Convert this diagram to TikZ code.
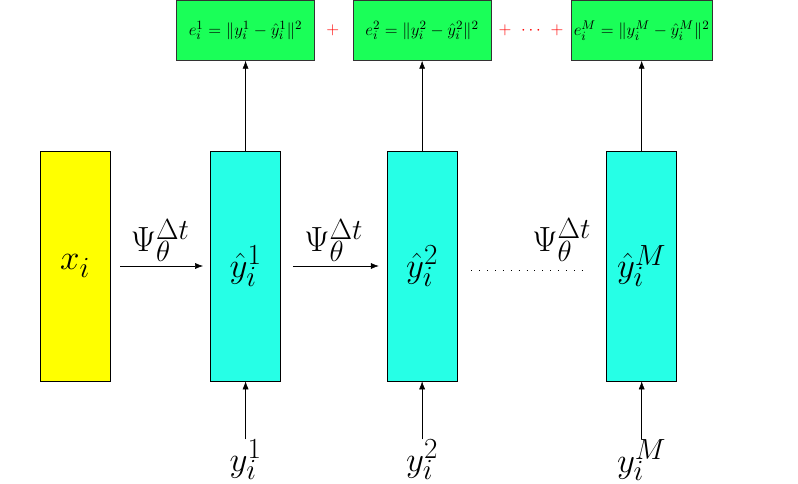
\documentclass[tikz,border=0pt]{standalone}
\usetikzlibrary{arrows.meta,positioning,calc}
\definecolor{inputyellow}{RGB}{255,255,0}
\definecolor{predcyan}{RGB}{38,255,230}
\definecolor{errgreen}{RGB}{26,255,88}
\newcommand{\biglabel}{\fontsize{29}{34}\selectfont}
\tikzset{
  inputbox/.style={
    rectangle,
    draw=black,
    fill=inputyellow,
    minimum width=1.75cm,
    minimum height=5.75cm,
    inner sep=0pt,
    font=\biglabel
  },
  predbox/.style={
    inputbox,
    fill=predcyan
  },
  errbox/.style={
    rectangle,
    draw=black!80,
    fill=errgreen,
    minimum width=3.45cm,
    minimum height=1.5cm,
    inner xsep=2pt,
    font=\fontsize{13.2}{15}\selectfont
  },
  obs/.style={
    inner sep=0pt,
    font=\biglabel
  },
  flowlabel/.style={
    font=\biglabel,
    inner sep=0pt,
    above=3pt
  },
  redop/.style={
    text=red,
    inner sep=0pt,
    font=\fontsize{13.2}{15}\selectfont
  },
  arrow/.style={
    -{Latex[length=2mm]},
    draw=black
  },
  dotline/.style={
    dash pattern=on 0.6pt off 5pt
  }
}

\begin{document}
\begin{tikzpicture}
  \useasboundingbox (0,0) rectangle (19.95,-12.1);

  \node[inputbox] (xin) at (1.875,-6.65) {$x_i$};
  \node[predbox, right=2.5cm of xin] (yhat1) {$\hat{y}_i^1$};
  \node[predbox, right=2.65cm of yhat1] (yhat2) {$\hat{y}_i^2$};
  \node[predbox, right=3.725cm of yhat2] (yhatM) {$\hat{y}_i^M$};

  \node[errbox, above=2.25cm of yhat1] (err1) {$e_i^1 = \|y_i^1 - \hat{y}_i^1\|^2$};
  \node[errbox, above=2.25cm of yhat2] (err2) {$e_i^2 = \|y_i^2 - \hat{y}_i^2\|^2$};
  \node[errbox, above=2.25cm of yhatM] (errM) {$e_i^M = \|y_i^M - \hat{y}_i^M\|^2$};
  \node[redop, right=0.28cm of err1] (plus1) {$+$};
  \node[redop] (plusdots) at ($(err2.east)!0.5!(errM.west)$) {$+\hspace{5pt}\cdots\hspace{5pt}+$};

  \node[obs, below=1.45cm of yhat1] (obs1) {$y_i^1$};
  \node[obs, below=1.45cm of yhat2] (obs2) {$y_i^2$};
  \node[obs, below=1.45cm of yhatM] (obsM) {$y_i^M$};

  \draw[arrow, shorten <=0.25cm, shorten >=0.18cm] (xin) -- node[flowlabel] {$\Psi_\theta^{\Delta t}$} (yhat1);
  \draw[arrow, shorten <=0.3cm, shorten >=0.2cm] (yhat1) -- node[flowlabel] {$\Psi_\theta^{\Delta t}$} (yhat2);
  \draw[dotline, shorten <=0.35cm, shorten >=0.5cm] ([yshift=-0.1cm]yhat2.east) -- node[flowlabel, above=6pt, pos=0.7] {$\Psi_\theta^{\Delta t}$} ([yshift=-0.1cm]yhatM.west);

  \draw[arrow] (yhat1) -- (err1);
  \draw[arrow] (yhat2) -- (err2);
  \draw[arrow] (yhatM) -- (errM);

  \draw[arrow] (obs1) -- (yhat1);
  \draw[arrow] (obs2) -- (yhat2);
  \draw[arrow] (obsM) -- (yhatM);
\end{tikzpicture}
\end{document}
